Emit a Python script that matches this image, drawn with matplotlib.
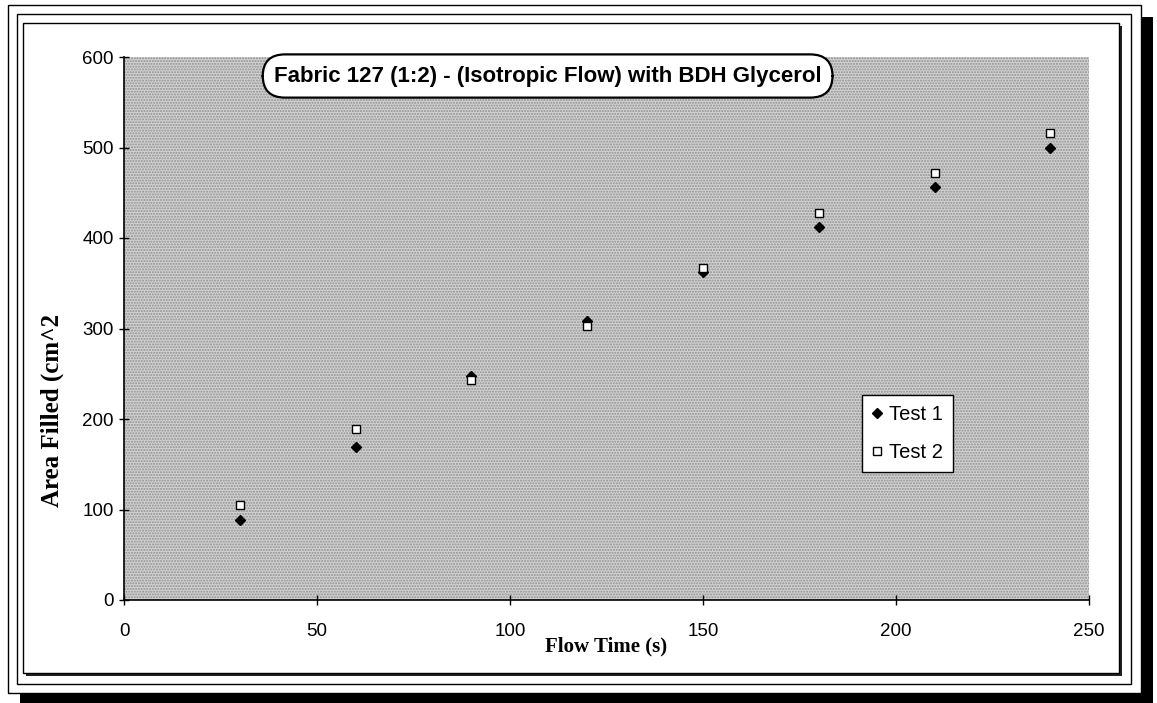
import numpy as np
import matplotlib.pyplot as plt
from matplotlib.patches import Rectangle

flow_time = [30, 60, 90, 120, 150, 180, 210, 240]
test1 = [88, 169, 248, 308, 362, 412, 456, 499]
test2 = [105, 189, 243, 303, 367, 428, 472, 516]

W, H = 1157, 703
fig = plt.figure(figsize=(W / 100, H / 100), dpi=100)


def box(x0, y0, x1, y1, **kw):
    # pixel box (origin top-left) -> figure fraction rectangle
    r = Rectangle((x0 / W, 1 - y1 / H), (x1 - x0) / W, (y1 - y0) / H,
                  transform=fig.transFigure, **kw)
    fig.add_artist(r)


# chart frame with drop shadows
box(20, 17, 1153, 703, facecolor='black', edgecolor='none', zorder=-10)
box(8, 5, 1141, 693, facecolor='white', edgecolor='black', lw=1, zorder=-9)
box(17, 14, 1131, 684, facecolor='none', edgecolor='black', lw=1, zorder=-8)
box(26, 26, 1122, 676, facecolor='#222222', edgecolor='none', zorder=-7)
box(23, 23, 1119, 673, facecolor='white', edgecolor='black', lw=1, zorder=-6)

ax = fig.add_axes([124 / W, 1 - 600 / H, (1089 - 124) / W, (600 - 57) / H])
ax.set_facecolor('#d2d2d2')
ax.add_patch(Rectangle((0, 0), 1, 1, transform=ax.transAxes, facecolor='none',
                       edgecolor='#8f8f8f', hatch='......', lw=0, zorder=0))

ax.plot(flow_time, test1, linestyle='none', marker='D', markersize=5.5,
        color='black', label='Test 1', zorder=3)
ax.plot(flow_time, test2, linestyle='none', marker='s', markersize=6,
        markerfacecolor='white', markeredgecolor='black', markeredgewidth=1,
        label='Test 2', zorder=4)

ax.set_xlim(0, 250)
ax.set_ylim(0, 600)
ax.set_xticks([0, 50, 100, 150, 200, 250])
ax.set_yticks([0, 100, 200, 300, 400, 500, 600])
for s in ['top', 'right']:
    ax.spines[s].set_visible(False)
for s in ['left', 'bottom']:
    ax.spines[s].set_linewidth(1.2)
ax.tick_params(direction='inout', length=7, width=1, labelsize=13.5)
ax.tick_params(axis='x', pad=13)
ax.tick_params(axis='y', pad=4)
for lab in ax.get_xticklabels() + ax.get_yticklabels():
    lab.set_fontfamily('Liberation Sans')

ax.set_xlabel('Flow Time (s)', fontsize=15, family='Liberation Serif',
              fontweight='bold')
ax.xaxis.set_label_coords(0.5, -0.068)
ax.set_ylabel('Area Filled (cm^2', fontsize=18, family='Liberation Serif',
              fontweight='bold')
ax.yaxis.set_label_coords(-0.062, 0.35)

ax.text(0.439, 0.965, 'Fabric 127 (1:2) - (Isotropic Flow) with BDH Glycerol',
        transform=ax.transAxes, ha='center', va='center', fontsize=16,
        family='Liberation Sans', fontweight='bold', zorder=5,
        bbox=dict(boxstyle='round,pad=0.5,rounding_size=1.0',
                  facecolor='white', edgecolor='black', lw=1.6))

leg = ax.legend(loc='upper left', bbox_to_anchor=(0.765, 0.3775),
                borderaxespad=0, frameon=True, fancybox=False,
                handlelength=0.5, handletextpad=0.35, borderpad=0.5,
                labelspacing=0.95, markerscale=0.9,
                prop={'family': 'Liberation Sans', 'size': 14.5})
leg.get_frame().set_edgecolor('black')
leg.get_frame().set_linewidth(1)
leg.get_frame().set_facecolor('white')
leg.get_frame().set_alpha(1)

fig.savefig('out.png', dpi=100)
